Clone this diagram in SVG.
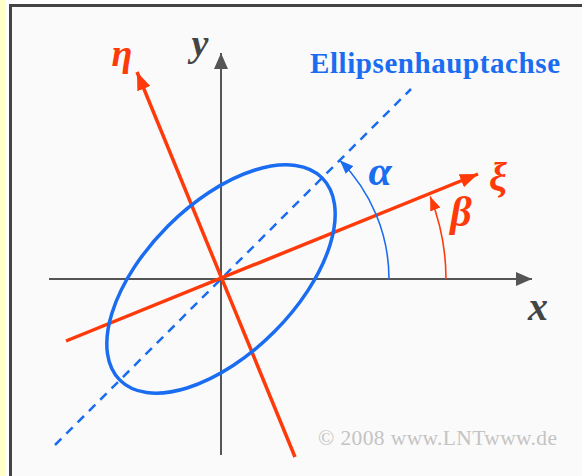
<svg xmlns="http://www.w3.org/2000/svg" width="582" height="476" viewBox="0 0 582 476">
  <style>
    .axis { stroke: #555; stroke-width: 2; fill: none; }
    .red { stroke: #ff3a0a; stroke-width: 3.5; fill: none; }
    .blue { stroke: #1a6cf0; fill: none; }
    .lbl { font-family: "Liberation Serif", "Times New Roman", serif; font-style: italic; font-weight: bold; text-anchor: middle; }
  </style>
  <defs>
    <marker id="ag" markerUnits="userSpaceOnUse" markerWidth="17" markerHeight="15" refX="16" refY="7" orient="auto">
      <path d="M0,0 L16,7 L0,14 z" fill="#555"/>
    </marker>
    <marker id="ar" markerUnits="userSpaceOnUse" markerWidth="19" markerHeight="15" refX="18" refY="7" orient="auto">
      <path d="M0,0 L18,7 L0,14 z" fill="#ff3a0a"/>
    </marker>
    <marker id="ars" markerUnits="userSpaceOnUse" markerWidth="15" markerHeight="12" refX="14" refY="5.5" orient="auto">
      <path d="M0,0 L14,5.5 L0,11 z" fill="#ff3a0a"/>
    </marker>
    <marker id="abs" markerUnits="userSpaceOnUse" markerWidth="15" markerHeight="12" refX="14" refY="5.5" orient="auto">
      <path d="M0,0 L14,5.5 L0,11 z" fill="#1a6cf0"/>
    </marker>
  </defs>
  <rect x="0" y="0" width="582" height="476" fill="#ffffff"/>
  <rect x="0" y="0" width="6" height="476" fill="#ffffc8"/>
  <rect x="10.5" y="5.5" width="590" height="490" fill="#fafafa" stroke="#444" stroke-width="3"/>

  <g id="connectors">
    <line id="x-axis" class="axis" x1="49" y1="279" x2="532" y2="279" marker-end="url(#ag)"/>
    <line id="y-axis" class="axis" x1="221" y1="455" x2="221" y2="53" marker-end="url(#ag)"/>
    <line id="major-axis" class="blue" stroke-width="2.5" stroke-dasharray="9,7" x1="55" y1="445" x2="411" y2="89"/>
    <line id="xi-axis" class="red" x1="66" y1="341" x2="478" y2="174" marker-end="url(#ar)"/>
    <line id="eta-axis" class="red" x1="295" y1="457" x2="137" y2="72" marker-end="url(#ar)"/>
    <path id="alpha-arc" class="blue" stroke-width="1.6" d="M389,279 A168,168 0 0 0 339.8,160.2" marker-end="url(#abs)"/>
    <path id="beta-arc" stroke="#ff3a0a" stroke-width="1.6" fill="none" d="M446,279 A225,225 0 0 0 430.2,196.5" marker-end="url(#ars)"/>
  </g>

  <g id="ellipse">
    <ellipse cx="221" cy="279" rx="143" ry="75" transform="rotate(-45 221 279)" class="blue" stroke-width="3.5"/>
  </g>

  <g id="labels">
    <text class="lbl" x="200" y="56" font-size="38" fill="#444">y</text>
    <text class="lbl" x="538" y="320" font-size="40" fill="#444">x</text>
    <text class="lbl" x="122" y="66" font-size="38" fill="#ff3a0a">η</text>
    <text class="lbl" x="498" y="190" font-size="40" fill="#ff3a0a">ξ</text>
    <text class="lbl" x="380" y="185" font-size="42" fill="#1a6cf0">α</text>
    <text class="lbl" x="461" y="226" font-size="42" fill="#ff3a0a">β</text>
    <text x="310" y="73" font-family="Liberation Serif, 'Times New Roman', serif" font-weight="bold" font-size="29" fill="#1a6cf0" textLength="250">Ellipsenhauptachse</text>
    <text x="318" y="445" font-family="Liberation Serif, 'Times New Roman', serif" font-size="21.5" fill="#c4c4c4" textLength="239">© 2008 www.LNTwww.de</text>
  </g>
</svg>
